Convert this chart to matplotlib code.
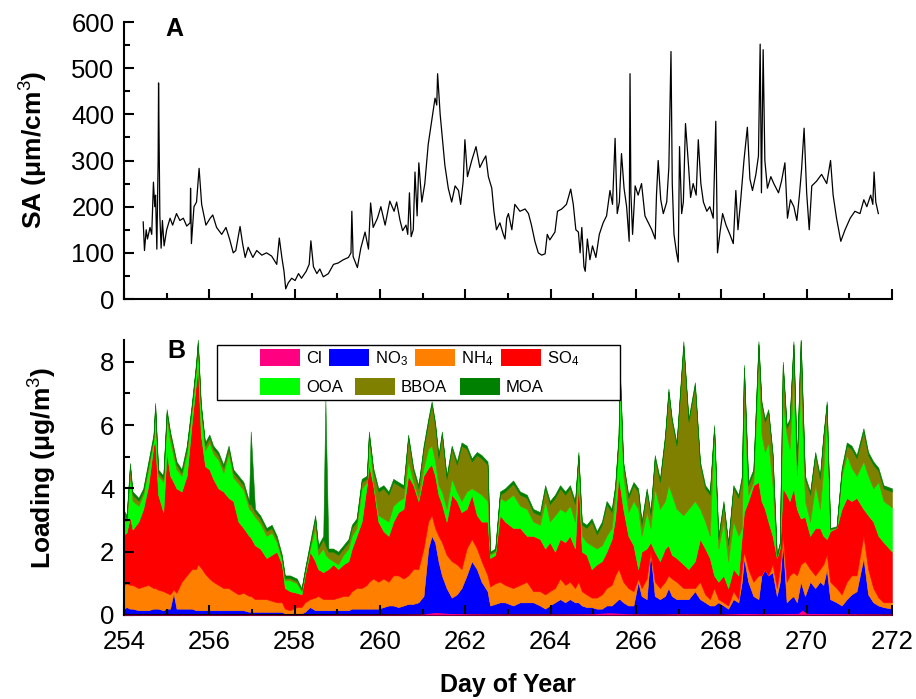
import matplotlib
matplotlib.use("Agg")
import matplotlib.pyplot as plt
import numpy as np
from matplotlib.patches import Patch, Rectangle
from matplotlib.ticker import MultipleLocator

plt.rcParams['font.family'] = ['Liberation Sans', 'DejaVu Sans']
plt.rcParams['mathtext.fontset'] = 'custom'
plt.rcParams['mathtext.rm'] = 'Liberation Sans'
plt.rcParams['mathtext.it'] = 'Liberation Sans:italic'
plt.rcParams['mathtext.bf'] = 'Liberation Sans:bold'

# ---------------- Panel A: surface area ----------------
sa_day = [254.45, 254.48, 254.52, 254.55, 254.61, 254.65, 254.69, 254.72, 254.74, 254.77,
          254.80, 254.81, 254.84, 254.87, 254.90, 254.94, 255.00, 255.08, 255.14, 255.23,
          255.31, 255.39, 255.47, 255.55, 255.56, 255.58, 255.64, 255.70, 255.76, 255.82,
          255.92, 256.02, 256.08, 256.17, 256.29, 256.39, 256.48, 256.56, 256.62, 256.72,
          256.78, 256.84, 256.91, 257.02, 257.11, 257.23, 257.34, 257.46, 257.58, 257.64,
          257.70, 257.75, 257.79, 257.85, 257.93, 258.01, 258.09, 258.16, 258.27, 258.34,
          258.38, 258.44, 258.52, 258.59, 258.67, 258.79, 258.91, 259.02, 259.14, 259.26,
          259.32, 259.34, 259.37, 259.47, 259.55, 259.65, 259.73, 259.78, 259.84, 259.94,
          260.02, 260.12, 260.23, 260.33, 260.39, 260.47, 260.53, 260.61, 260.65, 260.69,
          260.73, 260.78, 260.82, 260.87, 260.91, 260.98, 261.05, 261.13, 261.21, 261.29,
          261.33, 261.35, 261.41, 261.47, 261.52, 261.60, 261.68, 261.76, 261.84, 261.89,
          261.95, 261.99, 262.05, 262.15, 262.25, 262.34, 262.42, 262.48, 262.54, 262.62,
          262.67, 262.73, 262.81, 262.89, 262.93, 262.97, 263.01, 263.09, 263.16, 263.28,
          263.40, 263.48, 263.55, 263.63, 263.71, 263.79, 263.87, 263.92, 263.98, 264.10,
          264.16, 264.26, 264.37, 264.47, 264.53, 264.59, 264.65, 264.69, 264.73, 264.78,
          264.81, 264.86, 264.92, 264.98, 265.06, 265.14, 265.23, 265.31, 265.39, 265.45,
          265.51, 265.56, 265.61, 265.66, 265.72, 265.78, 265.84, 265.86, 265.88, 265.92,
          265.98, 266.05, 266.13, 266.21, 266.29, 266.37, 266.45, 266.48, 266.52, 266.58,
          266.64, 266.72, 266.77, 266.82, 266.85, 266.89, 266.95, 266.99, 267.02, 267.07,
          267.11, 267.16, 267.23, 267.28, 267.34, 267.41, 267.46, 267.52, 267.58, 267.66,
          267.73, 267.81, 267.87, 267.91, 267.97, 268.03, 268.11, 268.20, 268.28, 268.34,
          268.39, 268.45, 268.53, 268.61, 268.67, 268.73, 268.81, 268.87, 268.91, 268.94,
          268.98, 269.02, 269.08, 269.16, 269.23, 269.34, 269.41, 269.49, 269.55, 269.62,
          269.70, 269.77, 269.83, 269.88, 269.94, 270.00, 270.06, 270.12, 270.23, 270.35,
          270.47, 270.56, 270.62, 270.70, 270.80, 270.90, 271.02, 271.13, 271.25, 271.34,
          271.41, 271.50, 271.55, 271.58, 271.62, 271.68]
sa_val = [167, 105, 150, 130, 155, 140, 253, 200, 225, 108,
          300, 468, 180, 110, 170, 115, 150, 175, 160, 185,
          170, 175, 158, 165, 240, 120, 200, 210, 283, 205,
          160, 175, 182, 155, 140, 155, 128, 100, 105, 157,
          120, 90, 112, 90, 105, 95, 100, 93, 75, 132,
          90, 60, 22, 35, 45, 40, 55, 45, 60, 75,
          126, 70, 55, 65, 48, 55, 75, 78, 85, 90,
          100, 190, 92, 68, 110, 145, 108, 208, 155, 175,
          200, 160, 212, 190, 210, 170, 148, 160, 140, 230,
          135, 150, 275, 180, 295, 210, 250, 335, 385, 435,
          420, 488, 400, 340, 290, 240, 210, 245, 235, 205,
          255, 345, 265, 300, 330, 285, 300, 310, 265, 240,
          190, 150, 165, 140, 130, 175, 185, 150, 205, 190,
          195, 185, 160, 125, 100, 95, 98, 140, 128, 145,
          190, 195, 205, 238, 205, 150, 145, 100, 155, 70,
          60, 130, 85, 115, 90, 140, 165, 180, 235, 205,
          348, 185, 210, 315, 240, 200, 125, 488, 230, 140,
          245, 225, 250, 180, 165, 150, 130, 225, 300, 215,
          185, 210, 285, 536, 250, 140, 100, 80, 330, 185,
          210, 380, 290, 220, 250, 225, 345, 250, 210, 190,
          200, 175, 385, 100, 145, 185, 160, 140, 120, 235,
          150, 210, 300, 372, 260, 235, 270, 310, 552, 230,
          540, 300, 240, 265, 250, 230, 255, 295, 175, 215,
          200, 170, 225, 280, 370, 230, 150, 245, 255, 270,
          250, 300, 225, 175, 125, 150, 175, 190, 185, 215,
          200, 225, 205, 275, 210, 185]

# ---------------- Panel B: stacked loadings ----------------
# cumulative levels read off the stack (top edge of each layer)
load_day = [254.00, 254.06, 254.14, 254.20, 254.34, 254.45, 254.57, 254.69, 254.73, 254.80,
            254.92, 255.00, 255.08, 255.16, 255.23, 255.35, 255.47, 255.59, 255.69, 255.73,
            255.80, 255.90, 256.00, 256.09, 256.21, 256.33, 256.45, 256.56, 256.68, 256.80,
            256.93, 256.97, 257.07, 257.19, 257.34, 257.46, 257.58, 257.70, 257.77, 257.89,
            258.05, 258.16, 258.24, 258.36, 258.48, 258.55, 258.67, 258.72, 258.79, 258.90,
            259.02, 259.14, 259.26, 259.34, 259.45, 259.57, 259.69, 259.74, 259.84, 259.96,
            260.08, 260.20, 260.31, 260.43, 260.55, 260.66, 260.78, 260.90, 261.02, 261.13,
            261.21, 261.29, 261.37, 261.45, 261.56, 261.68, 261.80, 261.91, 262.03, 262.15,
            262.27, 262.38, 262.52, 262.58, 262.70, 262.81, 262.93, 263.12, 263.28, 263.44,
            263.59, 263.75, 263.87, 263.98, 264.10, 264.22, 264.34, 264.45, 264.57, 264.65,
            264.73, 264.84, 264.96, 265.08, 265.20, 265.31, 265.43, 265.51, 265.59, 265.62,
            265.70, 265.82, 265.94, 266.05, 266.13, 266.25, 266.34, 266.44, 266.56, 266.68,
            266.76, 266.84, 266.95, 267.11, 267.23, 267.38, 267.50, 267.62, 267.73, 267.83,
            267.93, 268.05, 268.16, 268.28, 268.40, 268.48, 268.53, 268.63, 268.75, 268.87,
            268.94, 269.02, 269.10, 269.20, 269.30, 269.37, 269.44, 269.53, 269.60, 269.69,
            269.77, 269.86, 269.96, 270.08, 270.20, 270.31, 270.39, 270.47, 270.55, 270.70,
            270.82, 270.94, 271.05, 271.17, 271.33, 271.44, 271.56, 271.68, 271.80, 272.00]
lvl_no3 = [0.20, 0.25, 0.20, 0.20, 0.15, 0.15, 0.15, 0.20, 0.20, 0.20,
           0.15, 0.20, 0.20, 0.70, 0.20, 0.20, 0.20, 0.20, 0.15, 0.15,
           0.15, 0.15, 0.15, 0.15, 0.15, 0.15, 0.15, 0.15, 0.15, 0.15,
           0.10, 0.10, 0.10, 0.10, 0.10, 0.10, 0.10, 0.10, 0.05, 0.05,
           0.05, 0.05, 0.10, 0.25, 0.15, 0.15, 0.15, 0.15, 0.15, 0.15,
           0.15, 0.15, 0.15, 0.20, 0.20, 0.20, 0.20, 0.20, 0.20, 0.20,
           0.25, 0.30, 0.30, 0.25, 0.30, 0.35, 0.35, 0.40, 0.60, 2.10,
           2.50, 2.30, 1.70, 1.25, 0.85, 0.55, 0.65, 0.85, 1.25, 1.70,
           1.45, 1.05, 0.75, 0.30, 0.35, 0.40, 0.40, 0.30, 0.40, 0.40,
           0.40, 0.30, 0.20, 0.30, 0.40, 0.50, 0.40, 0.50, 0.40, 0.40,
           0.30, 0.25, 0.25, 0.20, 0.20, 0.30, 0.30, 0.40, 0.50, 0.50,
           0.40, 0.30, 0.30, 1.05, 0.60, 0.50, 2.00, 0.60, 0.50, 0.60,
           0.85, 0.60, 0.50, 0.50, 0.50, 0.75, 0.50, 0.40, 0.30, 0.30,
           0.40, 0.30, 0.20, 0.50, 0.40, 1.05, 1.80, 1.05, 0.60, 0.50,
           1.25, 1.45, 1.25, 1.35, 0.60, 1.05, 2.30, 0.40, 0.50, 0.60,
           0.40, 1.05, 0.60, 1.05, 0.85, 1.05, 0.95, 1.45, 0.50, 0.40,
           0.30, 0.50, 0.65, 0.75, 1.80, 0.65, 0.40, 0.30, 0.25, 0.20]
lvl_nh4 = [0.95, 1.00, 0.95, 0.95, 0.85, 0.90, 0.95, 0.85, 0.85, 0.80,
           0.75, 0.70, 0.65, 0.80, 0.70, 1.05, 1.25, 1.45, 1.45, 1.60,
           1.50, 1.30, 1.15, 1.05, 0.95, 0.85, 0.85, 0.75, 0.65, 0.70,
           0.60, 0.60, 0.50, 0.50, 0.50, 0.45, 0.40, 0.40, 0.20, 0.15,
           0.25, 0.25, 0.40, 0.50, 0.55, 0.60, 0.50, 0.50, 0.50, 0.50,
           0.55, 0.60, 0.60, 0.75, 0.85, 0.85, 0.95, 1.05, 1.15, 1.05,
           1.15, 1.05, 1.25, 1.25, 1.15, 1.25, 1.45, 1.45, 2.10, 2.95,
           3.15, 2.75, 2.50, 2.30, 1.90, 1.70, 1.60, 1.45, 2.10, 2.40,
           2.10, 1.70, 1.25, 0.90, 1.00, 1.05, 0.95, 0.85, 0.95, 1.05,
           0.75, 0.75, 0.65, 0.75, 0.85, 1.15, 0.95, 1.05, 0.85, 1.05,
           0.75, 0.65, 0.55, 0.55, 0.65, 0.85, 0.95, 1.25, 1.45, 1.35,
           1.05, 0.85, 0.75, 1.15, 0.85, 1.15, 2.00, 1.05, 0.85, 1.05,
           1.25, 1.15, 1.05, 0.85, 0.85, 0.85, 1.05, 0.65, 0.50, 0.85,
           0.50, 0.40, 0.30, 0.75, 0.50, 1.45, 2.00, 1.45, 1.05, 1.25,
           1.25, 1.45, 1.25, 1.60, 0.85, 1.45, 2.50, 1.05, 1.25, 1.35,
           1.25, 1.60, 1.70, 1.45, 1.25, 1.45, 1.60, 1.90, 1.05, 0.85,
           0.65, 1.05, 1.25, 1.25, 2.50, 1.45, 0.85, 0.55, 0.40, 0.40]
lvl_so4 = [2.55, 2.60, 3.10, 2.70, 2.95, 3.35, 4.10, 5.35, 5.50, 3.80,
           3.25, 5.15, 4.40, 4.20, 4.00, 3.90, 4.40, 6.10, 7.35, 7.90,
           5.70, 4.70, 4.60, 4.30, 4.00, 3.90, 3.70, 3.60, 2.95, 2.75,
           2.50, 2.45, 2.20, 2.10, 1.80, 1.90, 2.00, 1.60, 0.85, 0.75,
           0.70, 0.65, 1.25, 2.00, 1.70, 1.45, 1.35, 1.40, 1.45, 1.60,
           1.45, 1.60, 1.70, 2.10, 2.50, 2.95, 4.10, 4.75, 4.10, 2.95,
           2.65, 2.50, 2.95, 3.25, 3.35, 4.40, 4.10, 3.60, 4.40, 4.65,
           4.75, 4.40, 3.80, 3.50, 2.95, 3.80, 3.60, 3.25, 3.35, 3.80,
           3.15, 2.95, 2.95, 1.80, 1.90, 3.15, 2.95, 2.75, 2.75, 2.50,
           2.50, 2.40, 2.10, 2.30, 2.00, 2.40, 2.30, 2.50, 2.10, 4.30,
           2.00, 1.90, 1.45, 1.60, 1.70, 2.00, 2.40, 3.05, 4.40, 4.10,
           3.35, 2.50, 2.20, 1.45, 2.00, 2.10, 2.30, 2.00, 1.70, 2.10,
           2.20, 1.90, 1.80, 1.60, 1.45, 1.70, 2.40, 2.10, 1.80, 1.25,
           1.05, 1.25, 0.85, 1.45, 1.25, 2.50, 3.25, 3.60, 4.10, 4.20,
           3.60, 3.35, 2.95, 2.50, 1.80, 2.10, 4.00, 3.80, 3.60, 4.00,
           3.35, 3.05, 3.10, 2.50, 2.75, 2.75, 2.50, 2.40, 2.65, 2.75,
           3.35, 3.70, 3.60, 3.70, 3.35, 3.15, 2.95, 2.50, 2.30, 2.00]
lvl_ooa = [3.00, 2.95, 4.40, 3.60, 3.45, 3.80, 4.60, 5.50, 6.40, 4.40,
           4.20, 6.20, 5.50, 5.00, 4.60, 4.40, 5.10, 6.50, 7.80, 8.50,
           6.50, 5.20, 5.45, 5.10, 4.90, 4.50, 5.10, 4.35, 4.15, 3.95,
           3.35, 3.30, 3.10, 2.90, 2.50, 2.60, 2.30, 1.75, 1.10, 1.10,
           1.00, 0.75, 1.35, 2.10, 2.75, 1.90, 2.10, 1.90, 1.80, 1.70,
           1.60, 1.90, 2.10, 2.50, 2.75, 4.00, 4.20, 5.55, 4.20, 3.15,
           3.05, 2.95, 3.45, 3.60, 3.70, 4.85, 4.20, 3.70, 4.65, 5.25,
           5.35, 4.85, 4.10, 3.90, 3.35, 4.30, 3.90, 3.60, 3.90, 4.00,
           3.90, 3.80, 3.60, 1.90, 2.00, 3.70, 3.60, 3.80, 3.45, 3.35,
           2.95, 2.85, 3.60, 2.95, 3.15, 3.35, 3.25, 3.45, 2.95, 4.85,
           2.50, 2.30, 2.20, 2.10, 2.20, 2.50, 2.75, 3.70, 5.35, 7.45,
           4.40, 3.25, 3.60, 3.35, 2.50, 3.25, 2.75, 4.00, 3.35, 3.60,
           4.10, 3.80, 3.35, 3.15, 3.35, 3.60, 3.35, 2.95, 2.50, 5.90,
           2.10, 2.95, 1.70, 2.95, 2.50, 2.75, 6.75, 3.80, 4.20, 8.00,
           5.70, 5.15, 5.45, 4.10, 1.80, 2.20, 6.75, 5.70, 5.25, 7.45,
           4.40, 7.40, 3.60, 2.95, 4.10, 3.35, 4.60, 6.40, 2.70, 2.75,
           4.40, 5.05, 4.65, 4.40, 4.85, 4.40, 4.00, 4.20, 3.60, 3.40]
lvl_total = [3.30, 3.15, 4.80, 3.90, 3.70, 4.00, 4.85, 5.70, 6.70, 4.60,
             4.40, 6.50, 5.80, 5.30, 4.85, 4.60, 5.35, 6.70, 8.00, 8.70,
             6.70, 5.45, 5.70, 5.35, 5.15, 4.75, 5.35, 4.60, 4.40, 4.20,
             3.60, 5.80, 3.35, 3.15, 2.75, 2.85, 2.50, 1.90, 1.25, 1.25,
             1.15, 0.85, 1.45, 2.30, 3.15, 2.20, 2.50, 6.80, 2.10, 2.10,
             2.00, 2.20, 2.40, 2.85, 3.05, 4.30, 4.40, 5.80, 4.65, 4.00,
             4.10, 3.90, 4.30, 4.20, 4.10, 5.70, 4.65, 4.10, 5.35, 6.20,
             6.75, 6.10, 5.05, 5.80, 4.40, 5.35, 4.85, 5.45, 5.35, 4.95,
             5.15, 5.05, 4.85, 2.00, 2.10, 3.90, 4.00, 4.25, 3.90, 3.80,
             3.35, 3.25, 4.10, 3.60, 3.80, 4.10, 3.90, 4.10, 3.60, 5.15,
             2.95, 2.85, 3.05, 2.65, 2.95, 3.60, 3.35, 4.10, 5.70, 7.80,
             4.85, 3.80, 4.20, 4.00, 2.95, 4.00, 3.25, 5.05, 4.30, 5.70,
             7.15, 6.20, 5.45, 8.65, 6.20, 7.35, 4.85, 4.10, 3.90, 6.00,
             2.50, 3.60, 2.30, 4.10, 3.80, 4.40, 7.90, 4.20, 4.60, 8.65,
             6.75, 6.20, 6.50, 5.15, 1.90, 2.30, 8.00, 6.00, 6.20, 8.65,
             4.85, 8.75, 4.40, 3.90, 5.15, 4.40, 5.70, 6.75, 2.75, 2.80,
             4.65, 5.45, 5.35, 5.05, 5.90, 5.15, 4.85, 4.65, 4.10, 4.00]
moa = [0.10, 0.10, 0.10, 0.10, 0.10, 0.10, 0.10, 0.10, 0.10, 0.10,
       0.10, 0.10, 0.10, 0.10, 0.10, 0.10, 0.10, 0.10, 0.10, 0.10,
       0.10, 0.10, 0.10, 0.10, 0.10, 0.10, 0.10, 0.10, 0.10, 0.10,
       0.10, 2.30, 0.10, 0.10, 0.10, 0.10, 0.10, 0.08, 0.08, 0.08,
       0.08, 0.05, 0.05, 0.10, 0.10, 0.10, 0.10, 4.60, 0.10, 0.10,
       0.10, 0.10, 0.10, 0.10, 0.10, 0.10, 0.10, 0.10, 0.10, 0.10,
       0.10, 0.10, 0.10, 0.10, 0.10, 0.10, 0.10, 0.10, 0.10, 0.10,
       0.10, 0.10, 0.10, 0.10, 0.10, 0.10, 0.10, 0.10, 0.10, 0.10,
       0.10, 0.10, 0.10, 0.05, 0.05, 0.10, 0.10, 0.10, 0.10, 0.10,
       0.10, 0.10, 0.10, 0.10, 0.10, 0.10, 0.10, 0.10, 0.10, 0.10,
       0.10, 0.10, 0.10, 0.10, 0.10, 0.10, 0.10, 0.10, 0.10, 0.10,
       0.10, 0.10, 0.10, 0.10, 0.10, 0.10, 0.10, 0.10, 0.10, 0.10,
       0.10, 0.10, 0.10, 0.15, 0.10, 0.10, 0.10, 0.10, 0.10, 0.10,
       0.10, 0.10, 0.10, 0.10, 0.10, 0.10, 0.10, 0.10, 0.10, 0.10,
       0.10, 0.10, 0.10, 0.10, 0.05, 0.05, 0.10, 0.10, 0.10, 0.10,
       0.10, 0.10, 0.10, 0.10, 0.10, 0.10, 0.10, 0.10, 0.03, 0.03,
       0.10, 0.10, 0.10, 0.10, 0.10, 0.10, 0.10, 0.10, 0.10, 0.10]
cl_day = [254.0, 255.0, 256.0, 257.0, 258.0, 259.0, 260.0, 261.0, 261.3, 261.6,
          262.0, 263.0, 264.0, 265.0, 265.4, 265.8, 266.5, 267.0, 268.0, 268.5,
          269.0, 269.8, 269.9, 270.0, 271.0, 272.0]
cl_val = [0.02, 0.02, 0.02, 0.02, 0.01, 0.02, 0.02, 0.03, 0.08, 0.05,
          0.04, 0.03, 0.03, 0.04, 0.07, 0.04, 0.03, 0.04, 0.03, 0.05,
          0.04, 0.05, 0.15, 0.05, 0.04, 0.03]

species = ['Cl', 'NO$_3$', 'NH$_4$', 'SO$_4$', 'OOA', 'BBOA', 'MOA']
colors = ['#FF0080', '#0000FF', '#FF8000', '#FF0000', '#00FF00', '#808000', '#008000']

# ---------------- figure ----------------
W, H = 916, 699
fig = plt.figure(figsize=(W / 100, H / 100), dpi=100)


def fbox(l, t, r, b):
    return [l / W, 1 - b / H, (r - l) / W, (b - t) / H]


axA = fig.add_axes(fbox(124, 22, 892, 299))
axB = fig.add_axes(fbox(124, 339.6, 892, 615))

axA.plot(sa_day, sa_val, color='black', lw=0.9)

day = np.array(load_day)
total = np.array(lvl_total)
levels = np.vstack([lvl_no3, lvl_nh4, lvl_so4, lvl_ooa,
                    total - np.array(moa), total])
levels = np.maximum.accumulate(levels, axis=0)
comps = np.diff(np.vstack([np.zeros_like(total), levels]), axis=0)
axB.stackplot(day, comps, colors=colors[1:], edgecolor='face', linewidth=0.4)
axB.fill_between(cl_day, 0, cl_val, color=colors[0], lw=0, zorder=3)

for ax in (axA, axB):
    ax.spines['top'].set_visible(False)
    ax.spines['right'].set_visible(False)
    for s in ('left', 'bottom'):
        ax.spines[s].set_linewidth(1.5)
    ax.set_xlim(254, 272)
    ax.xaxis.set_major_locator(MultipleLocator(2))
    ax.xaxis.set_minor_locator(MultipleLocator(1))
    ax.tick_params(which='both', direction='in', width=1.5, labelsize=18.5)
    ax.tick_params(which='major', length=7)
    ax.tick_params(which='minor', length=4)
    ax.tick_params(axis='y', pad=7)
    ax.tick_params(axis='x', pad=10.5)

axA.set_ylim(0, 600)
axA.yaxis.set_major_locator(MultipleLocator(100))
axA.yaxis.set_minor_locator(MultipleLocator(50))
axA.tick_params(axis='x', labelbottom=False)
axA.set_ylabel('SA (μm/cm$^3$)', fontsize=19, fontweight='bold')
axA.yaxis.set_label_coords(-0.097, 0.54)

axB.set_ylim(0, 8.7)
axB.yaxis.set_major_locator(MultipleLocator(2))
axB.yaxis.set_minor_locator(MultipleLocator(1))
axB.set_ylabel('Loading (μg/m$^3$)', fontsize=19, fontweight='bold')
axB.yaxis.set_label_coords(-0.085, 0.535)
axB.set_xlabel('Day of Year', fontsize=18, fontweight='bold')
axB.xaxis.set_label_coords(0.5, -0.21)

fig.text(165 / W, 1 - 36 / H, 'A', fontsize=18, fontweight='bold', va='baseline')
fig.text(167 / W, 1 - 358 / H, 'B', fontsize=18, fontweight='bold', va='baseline')

# legend box and two rows of entries
axB.add_patch(Rectangle((217 / W, 1 - 400 / H), 403 / W, 55 / H,
                        transform=fig.transFigure, facecolor='white',
                        edgecolor='black', lw=1.0, zorder=4))
handles = [Patch(facecolor=c, edgecolor='none') for c in colors]
common = dict(loc='upper left', bbox_transform=fig.transFigure, frameon=False,
              fontsize=12, handlelength=2.4, handleheight=1.2, handletextpad=0.35,
              borderpad=0, borderaxespad=0)
leg1 = axB.legend(handles[:4], species[:4], ncol=4, columnspacing=0.45,
                  bbox_to_anchor=(260 / W, 1 - 349 / H), **common)
axB.add_artist(leg1)
leg2 = axB.legend(handles[4:], species[4:], ncol=3, columnspacing=0.75,
                  bbox_to_anchor=(260 / W, 1 - 378 / H), **common)
leg1.set_zorder(6)
leg2.set_zorder(6)

fig.savefig('out.png', dpi=100)
